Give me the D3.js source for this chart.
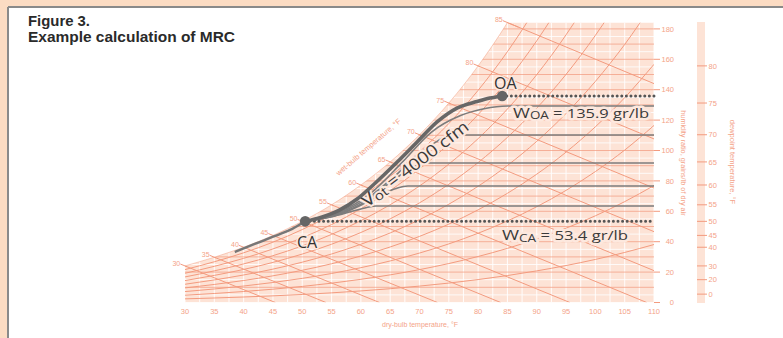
<!DOCTYPE html>
<html><head><meta charset="utf-8">
<script src="https://cdn.jsdelivr.net/npm/d3@7"></script>
<style>body{margin:0;background:#fff}svg{display:block}</style>
</head><body>
<svg id="c" width="783" height="338"></svg>
<script>
// ---------- data ----------
const dbTicks = [30,35,40,45,50,55,60,65,70,75,80,85,90,95,100,105,110];
const wTicks = [0,20,40,60,80,100,120,140,160,180];
const dewTicks = [0,20,30,40,45,50,55,60,65,70,75,80];
const dewPws = [0.01857,0.0505,0.0808,0.1217,0.1475,0.1780,0.2138,0.2564,0.3057,0.3633,0.4300,0.5073];
const satTemps = [30,35,40,45,50,55,60,65,70,75,80,85,90,95,100,105,110];
const satPws = [0.0808,0.0999,0.1217,0.1475,0.1780,0.2138,0.2564,0.3057,0.3633,0.4300,0.5073,0.5964,0.6988,0.8162,0.9503,1.1030,1.2763];
const rhLevels = [0.1,0.2,0.3,0.4,0.5,0.6,0.7,0.8,0.9];
const wbTemps = [30,35,40,45,50,55,60,65,70,75,80,85];
// thick curve CA -> OA (dry-bulb F, grains/lb)
const mainT = [50.5,53.4,56.4,59.3,62.1,66.2,69.6,73.0,76.4,79.8,82.0,84.1];
const mainW = [53.4,56.3,60.9,67.9,77.3,92.4,105.6,118.8,127.9,132.2,134.5,135.9];
const leadT = [38.5,41.9,45.4,48.3,50.5];
const leadW = [33.2,38.5,43.8,48.4,53.4];
// thin zone curves ending in horizontal lines
const zoneT = [
  [50.5,56,62,67,72,77,81,85,110],
  [50.5,56,62,66,70,73,75.2,110],
  [50.5,56,61,65,68.5,70.9,110],
  [50.5,56,60,63.5,66,68,110],
  [50.5,55,58.5,61,62.6,110]
];
const zoneW = [
  [53.4,59,73,92,112,123,127.5,129.3,129.3],
  [53.4,58.5,71,84,98,106,110.2,110.2],
  [53.4,58,67,79,88,91.8,91.8],
  [53.4,57.5,64,71,75,76.6,76.6],
  [53.4,56.5,60,62.5,63.5,63.5]
];
const CA = {T:50.5, W:53.4};
const OA = {T:84.1, W:135.9};

// ---------- setup ----------
const P = 14.696;
const wOf = (pws, rh) => 7000*0.622*rh*pws/(P - rh*pws);
const svg = d3.select('#c');
const X = d3.scaleLinear().domain([30,110]).range([185,654]);
const Y = d3.scaleLinear().domain([0,180]).range([302.5,28.9]);
const salmon = '#f39b7f', salmonTxt = '#f4a388', pink = '#fde3d6';

// frame
svg.append('rect').attr('width',783).attr('height',338).attr('fill','#fcdcc3');
svg.append('rect').attr('x',9).attr('y',8).attr('width',774).attr('height',330).attr('fill','#fff');
svg.append('line').attr('x1',8).attr('x2',783).attr('y1',7).attr('y2',7).attr('stroke','#8a8a8a').attr('stroke-width',2);
svg.append('line').attr('x1',8).attr('x2',8).attr('y1',7).attr('y2',338).attr('stroke','#8a8a8a').attr('stroke-width',2);

// title
const tf = 'Liberation Sans, Arial, sans-serif';
svg.append('text').attr('x',28).attr('y',26).text('Figure 3.')
  .attr('font-family',tf).attr('font-weight','bold').attr('font-size',14).attr('fill','#2a2a2a')
  .attr('textLength',62).attr('lengthAdjust','spacingAndGlyphs');
svg.append('text').attr('x',28).attr('y',42).text('Example calculation of MRC')
  .attr('font-family',tf).attr('font-weight','bold').attr('font-size',14).attr('fill','#2a2a2a')
  .attr('textLength',207).attr('lengthAdjust','spacingAndGlyphs');

// clips
const satPts = satTemps.map((t,i)=>({T:t, W:wOf(satPws[i],1)}));
const defs = svg.append('defs');
defs.append('clipPath').attr('id','rc').append('rect')
  .attr('x',X(30)).attr('y',Y(184)).attr('width',X(110)-X(30)).attr('height',Y(0)-Y(184));
const areaSat = d3.area().x(d=>X(d.T)).y0(Y(0)).y1(d=>Y(d.W)).curve(d3.curveMonotoneX);
defs.append('clipPath').attr('id','sc').append('path').attr('d',areaSat(satPts));

const outer = svg.append('g').attr('clip-path','url(#rc)');
const g = outer.append('g').attr('clip-path','url(#sc)');
g.append('rect').attr('x',X(30)).attr('y',Y(190)).attr('width',X(110)-X(30)).attr('height',Y(0)-Y(190)).attr('fill',pink);

// white grid
for (let t=30; t<=110; t+=2.5) g.append('line').attr('x1',X(t)).attr('x2',X(t)).attr('y1',Y(190)).attr('y2',Y(0)).attr('stroke','#fff').attr('stroke-width',1.1).attr('opacity',0.85);
for (let w=5; w<=185; w+=10) g.append('line').attr('x1',X(30)).attr('x2',X(110)).attr('y1',Y(w)).attr('y2',Y(w)).attr('stroke','#fff').attr('stroke-width',1).attr('opacity',0.85);
for (let w=10; w<=180; w+=10) g.append('line').attr('x1',X(30)).attr('x2',X(110)).attr('y1',Y(w)).attr('y2',Y(w)).attr('stroke',salmon).attr('stroke-width',0.9).attr('opacity',0.8);

// RH curves
const lineTW = d3.line().x(d=>X(d.T)).y(d=>Y(d.W)).curve(d3.curveMonotoneX);
rhLevels.forEach(rh=>{
  const pts = satTemps.map((t,i)=>({T:t, W:wOf(satPws[i],rh)}));
  g.append('path').attr('d',lineTW(pts)).attr('fill','none').attr('stroke',salmon).attr('stroke-width',1);
});

// wet-bulb lines
const wbG = svg.append('g');
wbTemps.forEach(tw=>{
  const i = satTemps.indexOf(tw);
  const ws = wOf(satPws[i],1);
  const tEnd = tw + (1093-0.556*tw)*(ws/7000)/0.24;
  g.append('line').attr('x1',X(tw)).attr('y1',Y(ws)).attr('x2',X(tEnd)).attr('y2',Y(0))
    .attr('stroke',salmon).attr('stroke-width',1);
  const x0=X(tw), y0=Y(ws), dx=X(tEnd)-x0, dy=Y(0)-y0, L=Math.hypot(dx,dy);
  const ux=dx/L, uy=dy/L;
  wbG.append('line').attr('x1',x0-ux*5).attr('y1',y0-uy*5).attr('x2',x0+ux*(ws>184?12:2)).attr('y2',y0+uy*(ws>184?12:2))
    .attr('stroke',salmon).attr('stroke-width',1);
  wbG.append('text').attr('x',x0-ux*5-4).attr('y',y0-uy*5-1).attr('text-anchor','middle').attr('dominant-baseline','central')
    .attr('font-family',tf).attr('font-size',7).attr('fill',salmonTxt).text(tw);
});
outer.append('path').attr('d',lineTW(satPts)).attr('fill','none').attr('stroke',salmon).attr('stroke-width',0.8).attr('opacity',0.6);

// bottom axis labels
svg.append('g').selectAll('text').data(dbTicks).join('text')
  .attr('x',d=>X(d)).attr('y',313.5).attr('text-anchor','middle').attr('font-family',tf).attr('font-size',7.5).attr('fill',salmonTxt).text(d=>d);
svg.append('text').attr('x',420).attr('y',327).attr('text-anchor','middle').attr('font-family',tf).attr('font-size',7).attr('fill',salmonTxt).text('dry-bulb temperature, °F');

// right humidity axis
const ra = svg.append('g');
wTicks.forEach(w=>{
  ra.append('line').attr('x1',X(110)).attr('x2',X(110)+6).attr('y1',Y(w)).attr('y2',Y(w)).attr('stroke',salmon).attr('stroke-width',1);
  ra.append('text').attr('x',674).attr('y',Y(w)).attr('dy','0.35em').attr('text-anchor','end').attr('font-family',tf).attr('font-size',7.5).attr('fill',salmonTxt).text(w);
});
svg.append('text').attr('transform','translate(681,163) rotate(90)').attr('text-anchor','middle').attr('font-family',tf).attr('font-size',7.3).attr('fill',salmonTxt).text('humidity ratio, grains/lb of dry air');

// dewpoint scale
svg.append('rect').attr('x',697).attr('y',22).attr('width',8).attr('height',281).attr('fill',pink);
dewTicks.forEach((t,i)=>{
  const y = Y(wOf(dewPws[i],1));
  svg.append('line').attr('x1',697).attr('x2',707).attr('y1',y).attr('y2',y).attr('stroke',salmon).attr('stroke-width',1);
  svg.append('text').attr('x',708.5).attr('y',y).attr('dy','0.35em').attr('font-family',tf).attr('font-size',7.5).attr('fill',salmonTxt).text(t);
});
svg.append('text').attr('transform','translate(730,162) rotate(90)').attr('text-anchor','middle').attr('font-family',tf).attr('font-size',7.5).attr('fill',salmonTxt).text('dewpoint temperature, °F');

svg.append('text').attr('transform','translate(370,149) rotate(-40.6)').attr('text-anchor','middle').attr('font-family',tf).attr('font-size',7.5).attr('fill',salmonTxt).text('wet-bulb temperature, °F');

// ---------- MRC marks ----------
const lf = d3.line().x(d=>X(d[0])).y(d=>Y(d[1])).curve(d3.curveMonotoneX);
zoneT.forEach((ts,k)=>{
  svg.append('path').attr('d',lf(ts.map((t,i)=>[t,zoneW[k][i]]))).attr('fill','none').attr('stroke','#7c7c7c').attr('stroke-width',1.6);
});
[CA,OA].forEach(p=>{
  svg.append('line').attr('x1',X(p.T)).attr('x2',X(110)).attr('y1',Y(p.W)).attr('y2',Y(p.W))
    .attr('stroke','#555').attr('stroke-width',3).attr('stroke-dasharray','0 4.6').attr('stroke-linecap','round');
});

// labels (with halos, drawn before the thick curve)
const lblF = 'Open Sans, Noto Sans, sans-serif';
function halo(sel,w){ return sel.attr('paint-order','stroke').attr('stroke','#fde8de').attr('stroke-width',w).attr('stroke-linejoin','round'); }

const woa = halo(svg.append('text').attr('x',513).attr('y',117.5).attr('font-family',lblF).attr('fill','#3a3a3a')
  .attr('textLength',136).attr('lengthAdjust','spacingAndGlyphs'),5);
woa.append('tspan').attr('font-size',15).text('W');
woa.append('tspan').attr('font-size',11).attr('dy',1.5).text('OA');
woa.append('tspan').attr('font-size',13.5).attr('dy',-1.5).text(' = 135.9 gr/lb');

const wca = halo(svg.append('text').attr('x',502).attr('y',240).attr('font-family',lblF).attr('fill','#3a3a3a')
  .attr('textLength',126).attr('lengthAdjust','spacingAndGlyphs'),5);
wca.append('tspan').attr('font-size',15).text('W');
wca.append('tspan').attr('font-size',11).attr('dy',1.5).text('CA');
wca.append('tspan').attr('font-size',13.5).attr('dy',-1.5).text(' = 53.4 gr/lb');

const vot = halo(svg.append('text').attr('transform','translate(367,208) rotate(-37.5)').attr('font-family',lblF).attr('fill','#3a3a3a')
  .attr('textLength',130).attr('lengthAdjust','spacingAndGlyphs'),4);
vot.append('tspan').attr('font-size',18).text('V');
vot.append('tspan').attr('font-size',13).attr('dy',2).text('ot');
vot.append('tspan').attr('font-size',16.5).attr('dy',-2).text(' = 4000 cfm');

svg.append('path').attr('d',lf(leadT.map((t,i)=>[t,leadW[i]]))).attr('fill','none').attr('stroke','#777').attr('stroke-width',2.4);
svg.append('path').attr('d',lf(mainT.map((t,i)=>[t,mainW[i]]))).attr('fill','none').attr('stroke','#676767').attr('stroke-width',3.6).attr('stroke-linecap','round');
[CA,OA].forEach(p=>svg.append('circle').attr('cx',X(p.T)).attr('cy',Y(p.W)).attr('r',5.3).attr('fill','#666'));

halo(svg.append('text').attr('x',494).attr('y',89).attr('font-family',lblF).attr('font-size',16).attr('fill','#333').text('OA'),3);
halo(svg.append('text').attr('x',297).attr('y',248).attr('font-family',lblF).attr('font-size',16).attr('fill','#333').text('CA'),3);
</script>
</body></html>
